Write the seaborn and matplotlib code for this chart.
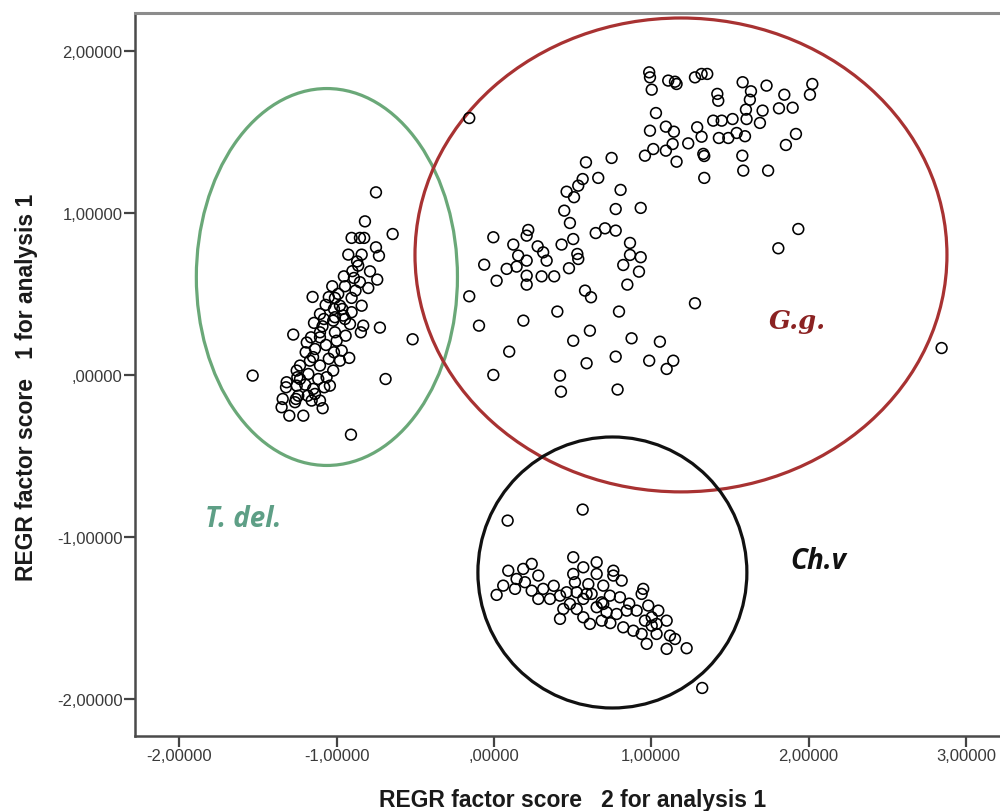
import pandas as pd
import matplotlib.pyplot as plt
from matplotlib.patches import Ellipse
import seaborn as sns

# factor scores (x = factor 2, y = factor 1)
tdel_x = [-0.750, -0.820, -0.644, -0.905, -0.852, -0.825, -0.750, -0.731, -0.926, -0.841,
          -0.863, -0.788, -0.742, -0.954, -0.890, -1.028, -0.947, -0.852, -0.799, -1.153,
          -1.011, -1.070, -0.905, -0.841, -1.017, -0.964, -0.905, -1.144, -1.081, -1.022,
          -0.947, -0.725, -0.846, -1.276, -0.517, -1.163, -1.106, -1.000, -0.943, -1.197,
          -1.138, -1.068, -1.017, -0.968, -0.920, -1.534, -0.689, -1.233, -1.170, -1.106,
          -1.022, -1.318, -1.250, -1.180, -1.117, -1.064, -1.322, -1.254, -1.149, -1.079,
          -1.343, -1.259, -1.184, -1.106, -1.350, -1.301, -1.212, -1.089, -0.909, -0.979,
          -1.106, -0.958, -0.915, -0.831, -1.011, -1.106, -1.011, -0.979, -1.254, -1.233,
          -1.043, -1.244, -1.138, -1.265, -1.159, -0.870, -0.900, -1.050, -1.090, -1.150,
          -1.050, -1.200, -0.990, -0.880, -1.190]
tdel_y = [1.126, 0.947, 0.869, 0.845, 0.845, 0.845, 0.787, 0.735, 0.742, 0.742,
          0.674, 0.639, 0.588, 0.608, 0.598, 0.547, 0.547, 0.572, 0.536, 0.481,
          0.475, 0.432, 0.475, 0.427, 0.407, 0.407, 0.387, 0.321, 0.345, 0.335,
          0.345, 0.292, 0.263, 0.249, 0.220, 0.232, 0.232, 0.211, 0.242, 0.140,
          0.160, 0.185, 0.140, 0.150, 0.105, -0.004, -0.025, 0.058, 0.088, 0.058,
          0.027, -0.045, -0.014, 0.006, -0.025, -0.014, -0.076, -0.066, -0.086, -0.076,
          -0.148, -0.148, -0.128, -0.158, -0.199, -0.251, -0.251, -0.205, -0.368, 0.427,
          0.376, 0.366, 0.314, 0.304, 0.356, 0.263, 0.263, 0.088, 0.027, -0.025,
          -0.066, -0.128, -0.117, -0.168, -0.158, 0.700, 0.640, 0.480, 0.300, 0.110,
          0.100, -0.060, 0.500, 0.520, 0.200]

gg_x = [-0.157, -0.004, -0.062, 0.017, -0.157, -0.095, -0.004, 0.585, 0.748, 1.161,
        0.663, 0.564, 0.536, 0.462, 0.509, 0.805, 0.447, 0.483, 0.774, 0.933,
        0.218, 0.208, 0.123, 0.154, 0.208, 0.278, 0.313, 0.335, 0.430, 0.504,
        0.647, 0.706, 0.774, 0.865, 0.865, 0.933, 0.822, 0.922, 0.530, 0.536,
        0.477, 0.081, 0.144, 0.208, 0.208, 0.303, 0.383, 0.848, 0.579, 0.617,
        0.403, 0.795, 1.278, 0.187, 0.610, 0.504, 0.875, 1.055, 0.097, 0.589,
        0.774, 0.987, 1.140, 1.098, 0.420, 0.426, 0.786, 2.846, 1.808, 1.935,
        0.987, 0.992, 1.003, 1.108, 1.161, 1.151, 1.278, 1.320, 1.356, 1.581,
        1.733, 1.634, 1.627, 1.420, 1.426, 2.024, 2.009, 1.846, 1.812, 1.899,
        1.030, 1.708, 1.691, 1.602, 1.606, 0.992, 1.093, 1.144, 1.292, 1.320,
        1.394, 1.448, 1.517, 1.430, 1.490, 1.543, 1.596, 0.960, 1.013, 1.093,
        1.136, 1.235, 1.331, 1.337, 1.579, 1.585, 1.743, 1.337, 1.856, 1.920]
gg_y = [1.584, 0.849, 0.680, 0.581, 0.485, 0.304, 0.000, 1.311, 1.338, 1.315,
        1.215, 1.208, 1.167, 1.130, 1.096, 1.141, 1.013, 0.937, 1.023, 1.030,
        0.894, 0.859, 0.804, 0.736, 0.705, 0.793, 0.756, 0.705, 0.804, 0.838,
        0.875, 0.904, 0.890, 0.814, 0.740, 0.726, 0.678, 0.637, 0.746, 0.715,
        0.658, 0.654, 0.668, 0.612, 0.557, 0.608, 0.608, 0.557, 0.520, 0.479,
        0.391, 0.391, 0.442, 0.335, 0.273, 0.211, 0.226, 0.205, 0.144, 0.072,
        0.113, 0.088, 0.088, 0.037, -0.004, -0.103, -0.090, 0.166, 0.781, 0.900,
        1.866, 1.835, 1.759, 1.815, 1.794, 1.808, 1.835, 1.856, 1.856, 1.805,
        1.784, 1.749, 1.697, 1.733, 1.691, 1.794, 1.728, 1.728, 1.644, 1.648,
        1.615, 1.630, 1.554, 1.636, 1.578, 1.506, 1.531, 1.500, 1.527, 1.469,
        1.568, 1.568, 1.578, 1.461, 1.461, 1.492, 1.472, 1.352, 1.393, 1.383,
        1.424, 1.428, 1.363, 1.350, 1.352, 1.260, 1.260, 1.215, 1.418, 1.486]

chv_x = [0.087, 0.564, 1.324, 0.504, 0.091, 0.186, 0.240, 0.282, 0.568, 0.504,
         0.653, 0.653, 0.759, 0.812, 0.144, 0.197, 0.059, 0.134, 0.017, 0.240,
         0.313, 0.356, 0.282, 0.462, 0.526, 0.589, 0.441, 0.420, 0.515, 0.695,
         0.759, 0.621, 0.737, 0.801, 0.685, 0.483, 0.526, 0.568, 0.653, 0.716,
         0.610, 0.685, 0.949, 0.939, 0.981, 0.907, 0.844, 0.780, 1.045, 1.098,
         1.003, 1.034, 0.960, 0.822, 0.886, 0.939, 1.003, 1.034, 0.971, 1.098,
         1.119, 1.151, 1.225, 0.420, 0.568, 0.695, 0.380, 0.600, 0.860, 0.740]
chv_y = [-0.898, -0.830, -1.930, -1.124, -1.207, -1.196, -1.165, -1.237, -1.186, -1.227,
         -1.155, -1.227, -1.207, -1.268, -1.258, -1.278, -1.299, -1.319, -1.356, -1.330,
         -1.319, -1.381, -1.381, -1.340, -1.340, -1.350, -1.443, -1.504, -1.278, -1.299,
         -1.237, -1.350, -1.361, -1.371, -1.402, -1.412, -1.443, -1.494, -1.432, -1.463,
         -1.535, -1.515, -1.319, -1.350, -1.422, -1.453, -1.453, -1.474, -1.453, -1.515,
         -1.494, -1.535, -1.515, -1.556, -1.577, -1.597, -1.546, -1.597, -1.658, -1.689,
         -1.607, -1.628, -1.685, -1.361, -1.381, -1.412, -1.300, -1.290, -1.410, -1.530]

xticks = [-2, -1, 0, 1, 2, 3]
xtick_labels = ['-2,00000', '-1,00000', ',00000', '1,00000', '2,00000', '3,00000']
yticks = [-2, -1, 0, 1, 2]
ytick_labels = ['-2,00000', '-1,00000', ',00000', '1,00000', '2,00000']

# hand drawn group ellipses (centre, width, height) and their labels
groups = ['T. del.', 'G.g.', 'Ch.v']
ell_cx = [-1.062, 1.189, 0.753]
ell_cy = [0.604, 0.740, -1.218]
ell_w = [1.66, 3.382, 1.71]
ell_h = [2.324, 2.922, 1.671]
ell_colors = ['#6aa878', '#a83232', '#111111']
label_x = [-1.596, 1.926, 2.06]
label_y = [-0.888, 0.333, -1.147]
label_colors = ['#5e9f86', '#8b2222', '#111111']
label_fonts = [['Open Sans', 'DejaVu Sans'], ['DejaVu Serif'], ['Open Sans', 'DejaVu Sans']]
label_sizes = [20, 18.5, 20]

df = pd.DataFrame({'x': tdel_x + gg_x + chv_x, 'y': tdel_y + gg_y + chv_y})

sns.set_theme(style='white')
plt.rcParams['font.family'] = ['Liberation Sans', 'DejaVu Sans']

fig = plt.figure(figsize=(10, 8.12), dpi=100)
ax = fig.add_axes([0.135, 0.0924, 0.87, 0.8904])

for cx, cy, w, h, c in zip(ell_cx, ell_cy, ell_w, ell_h, ell_colors):
    ax.add_patch(Ellipse((cx, cy), w, h, fill=False, edgecolor=c, linewidth=2.3, zorder=2))

sns.scatterplot(data=df, x='x', y='y', ax=ax, marker='o', s=60,
                facecolors='none', edgecolor='black', linewidth=1.15, zorder=3)

for name, lx, ly, c, fam, fs in zip(groups, label_x, label_y, label_colors, label_fonts, label_sizes):
    ax.text(lx, ly, name, color=c, fontsize=fs, fontweight='bold', fontstyle='italic',
            family=fam, ha='center', va='center')

ax.set_xlim(-2.282, 3.249)
ax.set_ylim(-2.226, 2.232)
ax.set_xticks(xticks, xtick_labels)
ax.set_yticks(yticks, ytick_labels)
ax.tick_params(axis='both', which='major', direction='out', length=8, width=1.6,
               color='#444444', labelsize=12, labelcolor='#3a3a3a', pad=1,
               bottom=True, left=True)

for side in ['left', 'bottom']:
    ax.spines[side].set_color('#4a4a4a')
    ax.spines[side].set_linewidth(1.8)
ax.spines['top'].set_color('#8c8c8c')
ax.spines['top'].set_linewidth(2.2)
ax.spines['right'].set_visible(False)

ax.set_xlabel('REGR factor score   2 for analysis 1', fontsize=16.5,
              fontweight='bold', color='#1a1a1a')
ax.set_ylabel('REGR factor score   1 for analysis 1', fontsize=16.5,
              fontweight='bold', color='#1a1a1a')
ax.xaxis.set_label_coords(0.503, -0.072)
ax.yaxis.set_label_coords(-0.1115, 0.483)

fig.savefig('out.png', dpi=100)
